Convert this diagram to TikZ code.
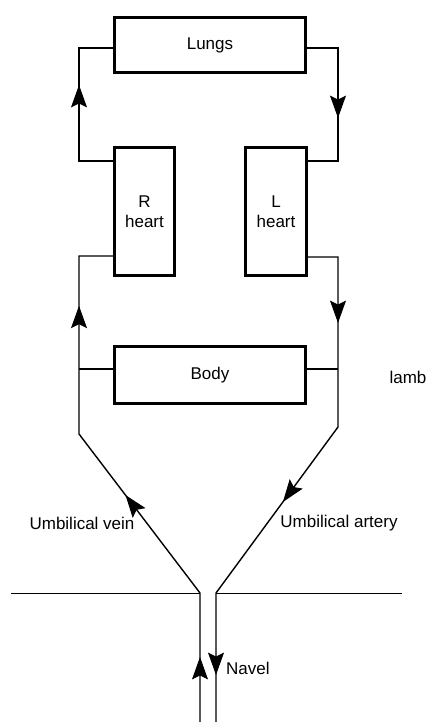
\documentclass[tikz,border=0pt]{standalone}
\usepackage{fontspec}
\setmainfont{Liberation Sans}
\usetikzlibrary{arrows.meta,decorations.markings}
\begin{document}
\begin{tikzpicture}[x=1pt,y=-1pt,
  box/.style={draw, line width=2.6pt, inner sep=0pt, font=\fontsize{17}{20}\selectfont, align=center},
  conn/.style={line width=1.4pt},
  lbl/.style={font=\fontsize{17}{20}\selectfont, inner sep=0pt},
  am/.style={postaction={decorate, decoration={markings,
      mark=at position #1 with {\arrow[line width=1pt]{Stealth[length=14pt,width=10pt,inset=2.5pt,scale=1.6]}}}}}
]
\useasboundingbox (0,0) rectangle (429,722);

% boxes
\node[box, minimum width=191.4pt, minimum height=55.4pt] (lungs) at (210,45) {Lungs};
\node[box, minimum width=60.4pt, minimum height=128.4pt] (rh) at (144.5,211.5) {R\\heart};
\node[box, minimum width=61.4pt, minimum height=128.4pt] (lh) at (276,211.5) {L\\heart};
\node[box, minimum width=191.4pt, minimum height=57.4pt] (body) at (210,375) {Body};

% bend points
\coordinate (a1) at (79,161);
\coordinate (a2) at (79,48);
\coordinate (b1) at (338,48);
\coordinate (b2) at (338,161);
\coordinate (v1) at (200,722);
\coordinate (vj) at (200,593);
\coordinate (v2) at (79,434);
\coordinate (v3) at (79,256);
\coordinate (w1) at (338,257);
\coordinate (w2) at (338,427);
\coordinate (aj) at (216,593);
\coordinate (w3) at (216,722);
\coordinate (bl) at (79,369);
\coordinate (br) at (338,369);
\coordinate (h1) at (11,593);
\coordinate (h2) at (402,593);

% pulmonary circuit
\draw[conn, am=110pt] (rh.west |- a1) -- (a1) -- (a2) -- (lungs.west |- a2);
\draw[conn, am=101pt] (lungs.east |- b1) -- (b1) -- (b2) -- (lh.east |- b2);

% systemic / umbilical circuit
\draw[conn, am=65pt, am=252pt, am=457pt] (v1) -- (vj) -- (v2) -- (v3) -- (rh.west |- v3);
\draw[conn, am=96pt, am=293pt, am=488pt] (lh.east |- w1) -- (w1) -- (w2) -- (aj) -- (w3);

% body connectors
\draw[conn] (body.west |- bl) -- (bl);
\draw[conn] (body.east |- br) -- (br);

% skin line
\draw[line width=1pt] (h1) -- (vj);
\draw[line width=1pt] (aj) -- (h2);

% labels
\node[lbl] (uv) at (82,523) {Umbilical vein};
\node[lbl] (ua) at (339,523) {Umbilical artery};
\node[lbl, anchor=west] (nav) at (226,668) {Navel};
\node[lbl] (lamb) at (408,377) {lamb};
\end{tikzpicture}
\end{document}
